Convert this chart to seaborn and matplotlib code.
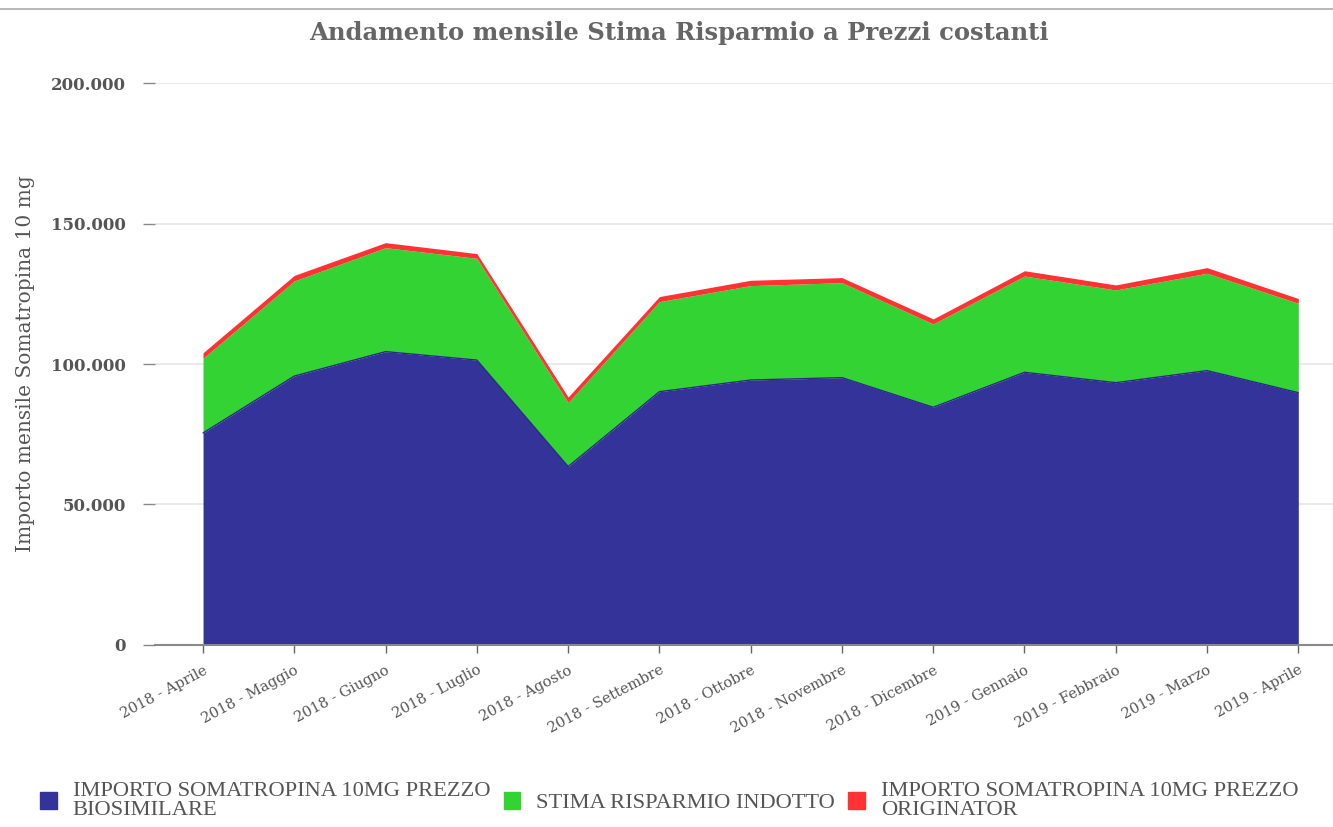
import numpy as np
import pandas as pd
import matplotlib
matplotlib.use("Agg")
import matplotlib.pyplot as plt
import seaborn as sns
from matplotlib.ticker import FuncFormatter
from matplotlib.patches import Patch

months = ["2018 - Aprile", "2018 - Maggio", "2018 - Giugno", "2018 - Luglio",
          "2018 - Agosto", "2018 - Settembre", "2018 - Ottobre", "2018 - Novembre",
          "2018 - Dicembre", "2019 - Gennaio", "2019 - Febbraio", "2019 - Marzo",
          "2019 - Aprile"]
biosimilare = [75450, 95700, 104400, 101400, 63500, 90150, 94300, 95150,
               84600, 97050, 93350, 97650, 89800]
risparmio = [26550, 33850, 37000, 36200, 22750, 32050, 33600, 33800,
             29650, 34250, 33000, 34650, 31800]
originator = [2000, 2000, 1800, 1700, 2000, 1800, 1900, 1800,
              1800, 1900, 1800, 2000, 1700]
series_names = ["IMPORTO SOMATROPINA 10MG PREZZO\nBIOSIMILARE",
                "STIMA RISPARMIO INDOTTO",
                "IMPORTO SOMATROPINA 10MG PREZZO\nORIGINATOR"]
colors = ["#333399", "#33d333", "#ff3333"]
yticks = [0, 50000, 100000, 150000, 200000]

sns.set_theme(style="white")
plt.rcParams['font.family'] = ['DejaVu Serif', 'DejaVu Sans']

df = pd.DataFrame({"mese": months, "bio": biosimilare, "risp": risparmio, "orig": originator})
x = np.arange(len(df))

fig = plt.figure(figsize=(13.33, 8.27), dpi=100)
ax = fig.add_axes([0.1163, 0.2201, 0.8837, 0.6795])

ax.stackplot(x, df["bio"], df["risp"], df["orig"], colors=colors, linewidth=0)
sns.lineplot(x=x, y=df["bio"], ax=ax, color="#2a2a88", linewidth=1.0)

ax.set_xlim(-0.526, 12.38)
ax.set_ylim(0, 200000)
ax.set_yticks(yticks)
ax.yaxis.set_major_formatter(FuncFormatter(lambda v, p: f"{int(v):,}".replace(",", ".")))
ax.set_xticks(x)
ax.set_xticklabels(df["mese"], rotation=28, ha="right", rotation_mode="anchor",
                   fontsize=10.5, color="#555555")
ax.tick_params(axis="y", length=9, width=1, color="#888888", labelsize=12,
               labelcolor="#555555", pad=12, left=True)
ax.tick_params(axis="x", length=6, width=1, color="#666666", bottom=True, pad=7)
for lab in ax.get_yticklabels():
    lab.set_fontweight("bold")

ax.grid(axis="y", color="#e6e6e6", linewidth=1.2)
ax.set_axisbelow(True)
for s in ["top", "right", "left"]:
    ax.spines[s].set_visible(False)
ax.spines["bottom"].set_color("#888888")
ax.spines["bottom"].set_linewidth(1.5)

ax.set_xlabel("")
ax.set_ylabel("Importo mensile Somatropina 10 mg", fontsize=14.5, color="#555555")
ax.yaxis.set_label_coords(-0.102, 0.5)

fig.text(0.509, 0.960, "Andamento mensile Stima Risparmio a Prezzi costanti",
         ha="center", va="center", fontsize=17.5, fontweight="bold", color="#666666")
fig.add_artist(plt.Line2D([0, 1], [0.989, 0.989], color="#aaaaaa", linewidth=1.2,
                          transform=fig.transFigure))

handles = [Patch(facecolor=c, edgecolor=c) for c in colors]
leg = fig.legend(handles, series_names, loc="center left", bbox_to_anchor=(0.03, 0.031),
                 ncol=3, frameon=False,
                 prop={"family": ["Liberation Serif"], "size": 16.2},
                 handlelength=0.75, handleheight=0.75,
                 columnspacing=0.6, handletextpad=0.7, borderpad=0, borderaxespad=0)
for t in leg.get_texts():
    t.set_color("#555555")
    t.set_linespacing(1.0)

fig.savefig("out.png", dpi=100)
